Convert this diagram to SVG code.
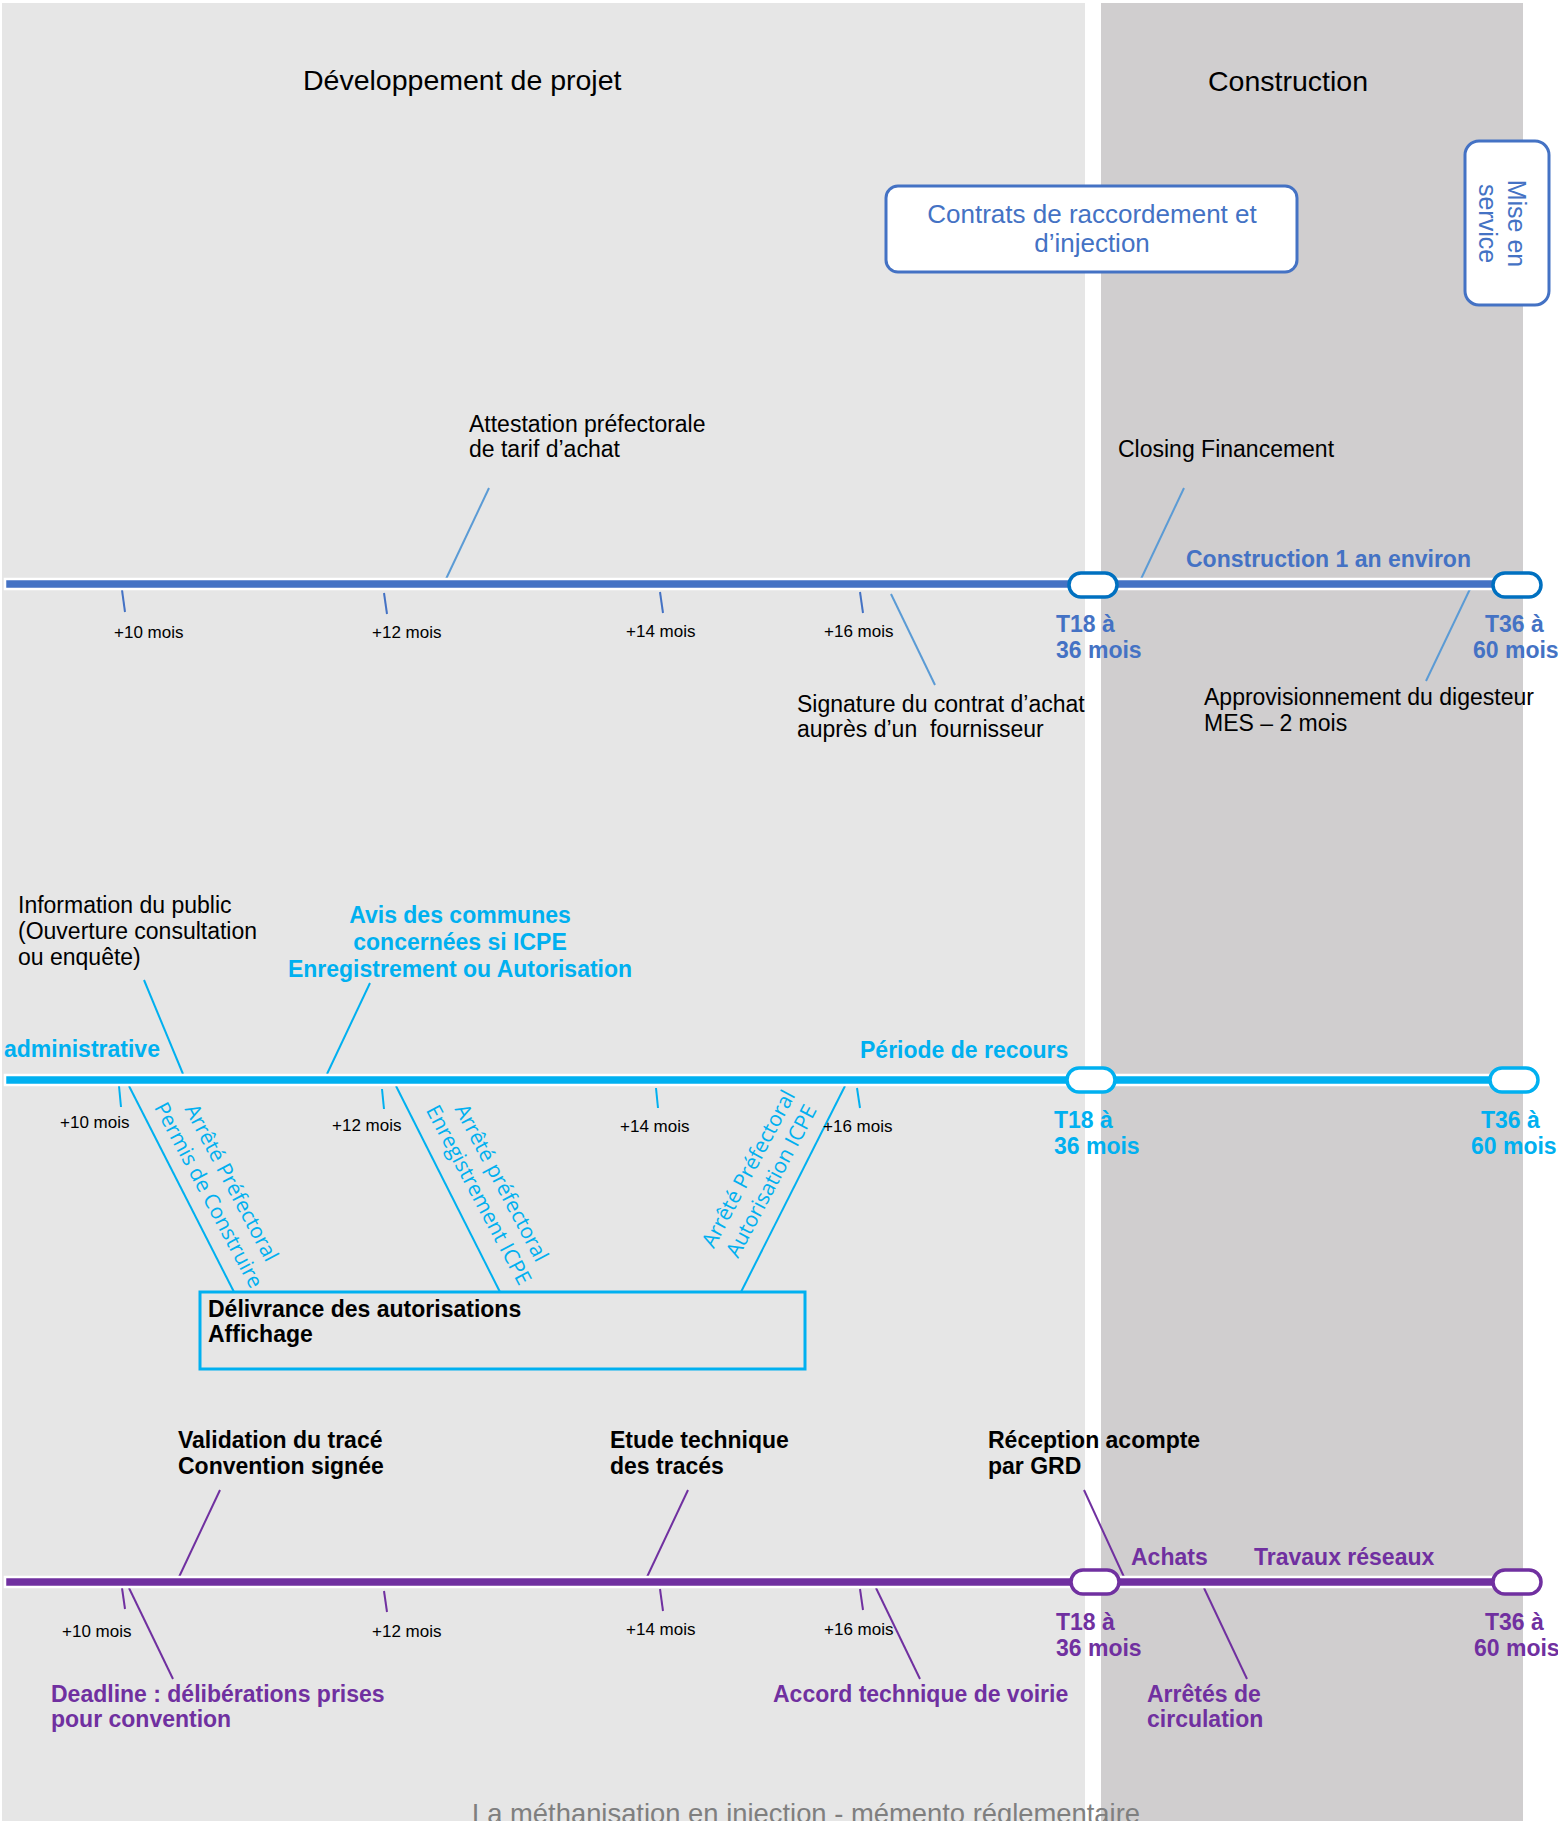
<svg xmlns="http://www.w3.org/2000/svg" width="1558" height="1821" viewBox="0 0 1558 1821">
<style>
text{font-family:"Liberation Sans",Arial,sans-serif;font-size:23px;fill:#000}
.t{font-size:28.5px}
.b{font-weight:bold}
.tk{font-size:17px}
.cb{fill:#4472c4}
.cc{fill:#00b0f0}
.cp{fill:#7030a0}
.mid{text-anchor:middle}
.rot{font-family:"Open Sans","Liberation Sans",sans-serif;font-size:21px;fill:#00b0f0;text-anchor:middle}
.foot{font-family:"Liberation Sans Narrow","Liberation Sans",sans-serif;font-size:28px;fill:#7f7f7f}
.lb{stroke:#5b9bd5;stroke-width:2;fill:none}
.tb{stroke:#4472c4;stroke-width:2;fill:none}
.lc{stroke:#00b0f0;stroke-width:2;fill:none}
.lp{stroke:#7030a0;stroke-width:2;fill:none}
.bar{stroke:#fff;stroke-width:2.5}
.cap{fill:#fff;stroke-width:3.5}
.box{fill:#fff;stroke:#4472c4;stroke-width:3}
</style>
<rect width="1558" height="1821" fill="#fff"/>
<g id="phases">
<rect x="2" y="3" width="1083" height="1818" fill="#e6e6e6"/>
<rect x="1101" y="3" width="422" height="1818" fill="#d0cecf"/>
<text class="t" x="303" y="90">Développement de projet</text>
<text class="t" x="1208" y="91">Construction</text>
</g>
<g id="contrats">
<rect class="box" x="886" y="186" width="411" height="86" rx="12"/>
<text class="cb mid" style="font-size:26px" x="1092" y="223">Contrats de raccordement et</text>
<text class="cb mid" style="font-size:26px" x="1092" y="252">d’injection</text>
</g>
<g id="mise-en-service">
<rect class="box" x="1465" y="141" width="84" height="164" rx="14"/>
<g transform="translate(1501,223.5) rotate(90)">
<text class="cb mid" style="font-size:25px" x="0" y="-7">Mise en</text>
<text class="cb mid" style="font-size:25px" x="0" y="22">service</text>
</g>
</g>
<g id="connectors">
<line class="lb" x1="446" y1="579" x2="489" y2="488"/>
<line class="lb" x1="891" y1="594" x2="935" y2="685"/>
<line class="lb" x1="1141" y1="579" x2="1184" y2="488"/>
<line class="lb" x1="1470" y1="589" x2="1426" y2="681"/>
<line class="tb" x1="122" y1="590" x2="125" y2="612"/>
<line class="tb" x1="384" y1="593" x2="387" y2="614"/>
<line class="tb" x1="660" y1="592" x2="663" y2="613"/>
<line class="tb" x1="860" y1="592" x2="863" y2="613"/>
<line class="lc" x1="144" y1="980" x2="183" y2="1074"/>
<line class="lc" x1="370" y1="983" x2="327" y2="1074"/>
<line class="lc" x1="129" y1="1086" x2="234" y2="1292"/>
<line class="lc" x1="396" y1="1086" x2="500" y2="1292"/>
<line class="lc" x1="845" y1="1086" x2="741" y2="1292"/>
<line class="lc" x1="119" y1="1086" x2="121" y2="1107"/>
<line class="lc" x1="382" y1="1089" x2="384" y2="1109"/>
<line class="lc" x1="656" y1="1088" x2="658" y2="1108"/>
<line class="lc" x1="857" y1="1088" x2="860" y2="1108"/>
<line class="lp" x1="220" y1="1490" x2="179" y2="1577"/>
<line class="lp" x1="688" y1="1490" x2="647" y2="1577"/>
<line class="lp" x1="1084" y1="1490" x2="1124" y2="1577"/>
<line class="lp" x1="129" y1="1588" x2="173" y2="1679"/>
<line class="lp" x1="876" y1="1588" x2="920" y2="1679"/>
<line class="lp" x1="1204" y1="1588" x2="1247" y2="1679"/>
<line class="lp" x1="122" y1="1588" x2="125" y2="1609"/>
<line class="lp" x1="384" y1="1591" x2="387" y2="1612"/>
<line class="lp" x1="660" y1="1589" x2="663" y2="1611"/>
<line class="lp" x1="860" y1="1589" x2="863" y2="1610"/>
</g>
<g id="timeline-projet">
<rect class="bar" x="5" y="579" width="1510" height="10" fill="#4472c4"/>
<rect class="cap" x="1069" y="573" width="48" height="24" rx="12" stroke="#0070c0"/>
<rect class="cap" x="1493" y="573" width="48" height="24" rx="12" stroke="#0070c0"/>
<text class="tk" x="114" y="638">+10 mois</text>
<text class="tk" x="372" y="638">+12 mois</text>
<text class="tk" x="626" y="637">+14 mois</text>
<text class="tk" x="824" y="637">+16 mois</text>
<text class="cb b" x="1056" y="632">T18 à</text>
<text class="cb b" x="1056" y="658">36 mois</text>
<text class="cb b" x="1485" y="632">T36 à</text>
<text class="cb b" x="1473" y="658">60 mois</text>
<text class="cb b" x="1186" y="567">Construction 1 an environ</text>
</g>
<g id="attestation"><text x="469" y="432">Attestation préfectorale</text><text x="469" y="457">de tarif d’achat</text></g>
<g id="closing"><text x="1118" y="457">Closing Financement</text></g>
<g id="signature"><text x="797" y="712">Signature du contrat d’achat</text><text x="797" y="737" xml:space="preserve">auprès d’un  fournisseur</text></g>
<g id="approvisionnement"><text x="1204" y="705">Approvisionnement du digesteur</text><text x="1204" y="731">MES – 2 mois</text></g>
<g id="timeline-admin">
<rect class="bar" x="5" y="1075" width="1510" height="10" fill="#00b0f0"/>
<rect class="cap" x="1067" y="1068" width="48" height="24" rx="12" stroke="#00b0f0"/>
<rect class="cap" x="1490" y="1068" width="48" height="24" rx="12" stroke="#00b0f0"/>
<text class="cc b" x="4" y="1057">administrative</text>
<text class="cc b" x="860" y="1058">Période de recours</text>
<text class="tk" x="60" y="1128">+10 mois</text>
<text class="tk" x="332" y="1131">+12 mois</text>
<text class="tk" x="620" y="1132">+14 mois</text>
<text class="tk" x="823" y="1132">+16 mois</text>
<text class="cc b" x="1054" y="1128">T18 à</text>
<text class="cc b" x="1054" y="1154">36 mois</text>
<text class="cc b" x="1481" y="1128">T36 à</text>
<text class="cc b" x="1471" y="1154">60 mois</text>
</g>
<g id="information"><text x="18" y="913">Information du public</text><text x="18" y="939">(Ouverture consultation</text><text x="18" y="965">ou enquête)</text></g>
<g id="avis"><text class="cc b mid" x="460" y="923">Avis des communes</text><text class="cc b mid" x="460" y="950">concernées si ICPE</text><text class="cc b mid" x="460" y="977">Enregistrement ou Autorisation</text></g>
<g id="permis" transform="translate(220,1189) rotate(62)"><text class="rot" y="-6">Arrêté Préfectoral</text><text class="rot" y="20">Permis de Construire</text></g>
<g id="enregistrement" transform="translate(490,1189) rotate(62)"><text class="rot" y="-6">Arrêté préfectoral</text><text class="rot" y="20">Enregistrement ICPE</text></g>
<g id="autorisation" transform="translate(760,1175) rotate(-62)"><text class="rot" y="-6">Arrêté Préfectoral</text><text class="rot" y="20">Autorisation ICPE</text></g>
<g id="delivrance">
<rect x="200" y="1292" width="605" height="77" fill="none" stroke="#00b0f0" stroke-width="3"/>
<text class="b" x="208" y="1317">Délivrance des autorisations</text>
<text class="b" x="208" y="1342">Affichage</text>
</g>
<g id="timeline-raccordement">
<rect class="bar" x="5" y="1577" width="1510" height="10" fill="#7030a0"/>
<rect class="cap" x="1071" y="1570" width="48" height="24" rx="12" stroke="#7030a0"/>
<rect class="cap" x="1493" y="1570" width="48" height="24" rx="12" stroke="#7030a0"/>
<text class="tk" x="62" y="1637">+10 mois</text>
<text class="tk" x="372" y="1637">+12 mois</text>
<text class="tk" x="626" y="1635">+14 mois</text>
<text class="tk" x="824" y="1635">+16 mois</text>
<text class="cp b" x="1056" y="1630">T18 à</text>
<text class="cp b" x="1056" y="1656">36 mois</text>
<text class="cp b" x="1485" y="1630">T36 à</text>
<text class="cp b" x="1474" y="1656">60 mois</text>
<text class="cp b" x="1131" y="1565">Achats</text>
<text class="cp b" x="1254" y="1565">Travaux réseaux</text>
</g>
<g id="validation"><text class="b" x="178" y="1448">Validation du tracé</text><text class="b" x="178" y="1474">Convention signée</text></g>
<g id="etude"><text class="b" x="610" y="1448">Etude technique</text><text class="b" x="610" y="1474">des tracés</text></g>
<g id="reception"><text class="b" x="988" y="1448">Réception acompte</text><text class="b" x="988" y="1474">par GRD</text></g>
<g id="deadline"><text class="cp b" x="51" y="1702">Deadline : délibérations prises</text><text class="cp b" x="51" y="1727">pour convention</text></g>
<g id="accord"><text class="cp b" x="773" y="1702">Accord technique de voirie</text></g>
<g id="arretes"><text class="cp b" x="1147" y="1702">Arrêtés de</text><text class="cp b" x="1147" y="1727">circulation</text></g>
<text class="foot" x="472" y="1823" textLength="668" lengthAdjust="spacingAndGlyphs">La méthanisation en injection - mémento réglementaire</text>
</svg>
